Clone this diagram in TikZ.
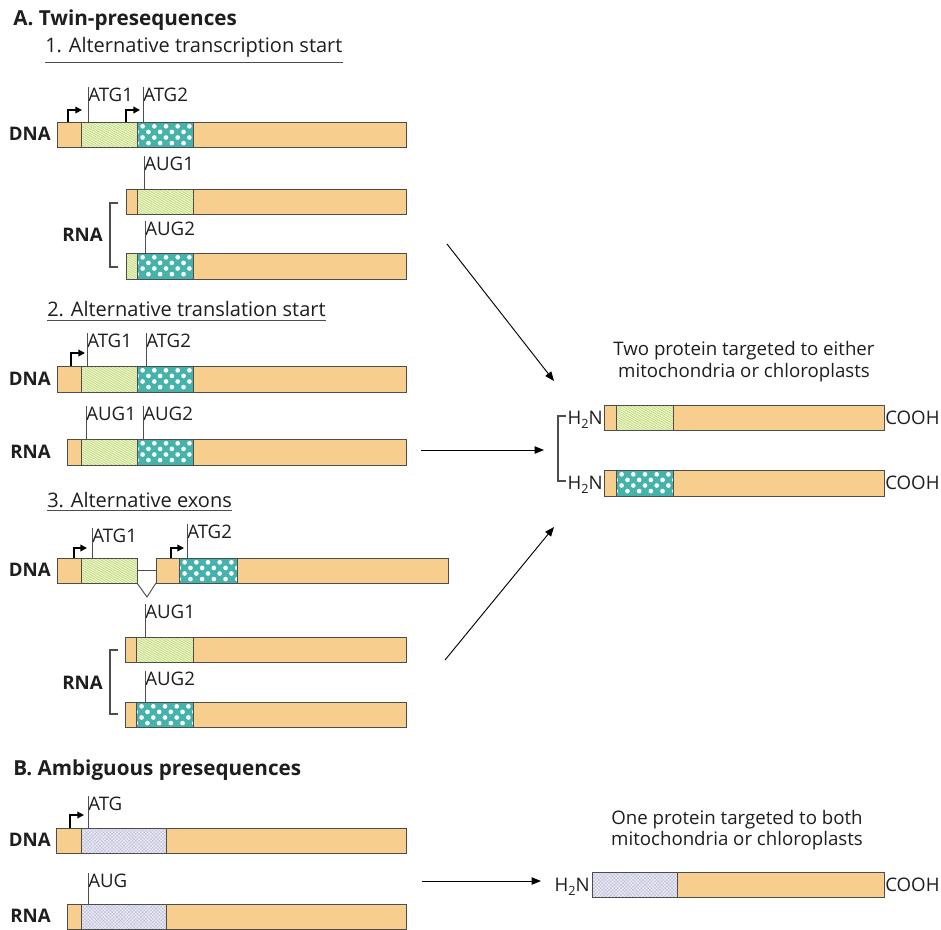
\documentclass[tikz,border=0pt]{standalone}
\usepackage{fontspec}
\setmainfont{Open Sans}
\usetikzlibrary{patterns.meta,arrows.meta}
\definecolor{orng}{HTML}{F8CE8F}
\definecolor{grnbg}{HTML}{EAF3C6}
\definecolor{grnln}{HTML}{B6D46C}
\definecolor{tealc}{HTML}{45B3AC}
\definecolor{lavbg}{HTML}{ECECF6}
\definecolor{lavln}{HTML}{BDBDD8}
\definecolor{edgec}{HTML}{4D4D4D}
\definecolor{txt}{HTML}{1E1E1E}
\tikzset{
  segedge/.style={draw=edgec,line width=0.7pt},
  lbl/.style={inner sep=0pt,text=txt,font=\fontsize{14}{16}\selectfont},
  seqlbl/.style={inner sep=0pt,text=txt,font=\bfseries\fontsize{14}{16}\selectfont},
  ttl/.style={inner sep=0pt,text=txt,font=\bfseries\fontsize{15.5}{18}\selectfont},
  hdg/.style={inner sep=0pt,text=txt,font=\fontsize{15}{18}\selectfont},
  tickln/.style={draw=edgec,line width=0.7pt},
  prom/.style={draw=black,line width=1.1pt,-{Triangle[length=5pt,width=5pt]}},
  brk/.style={draw=edgec,line width=0.8pt},
  conn/.style={draw=black,line width=0.7pt,-{Triangle[length=7pt,width=5.5pt]}},
  uline/.style={draw=edgec,line width=0.7pt}
}
\newcommand\orseg[4]{\draw[segedge,fill=orng] (#1,#3) rectangle (#2,#4);}
\newcommand\grseg[4]{\fill[grnbg] (#1,#3) rectangle (#2,#4);
  \fill[pattern={Lines[angle=-30,distance=1.5pt,line width=0.35pt]},pattern color=grnln] (#1,#3) rectangle (#2,#4);
  \draw[segedge] (#1,#3) rectangle (#2,#4);}
\newcommand\tlseg[4]{\fill[tealc] (#1,#3) rectangle (#2,#4);
  \begin{scope}\clip (#1,#3) rectangle (#2,#4);
  \foreach \i in {-1,...,5}{\foreach \j in {0,...,3}{
    \fill[white] ({#1+5.6+\i*11.7+mod(\j,2)*5.85},{#3+4.3+\j*5.6}) circle (1.75pt);}}
  \end{scope}
  \draw[segedge] (#1,#3) rectangle (#2,#4);}
\newcommand\lvseg[4]{\fill[lavbg] (#1,#3) rectangle (#2,#4);
  \fill[pattern={Hatch[angle=45,distance=1.8pt,line width=0.3pt]},pattern color=lavln] (#1,#3) rectangle (#2,#4);
  \draw[segedge] (#1,#3) rectangle (#2,#4);}
% start label: name, x, bar top, baseline, text
\newcommand\startlbl[5]{\node[lbl,anchor=base west] (#1) at (#2,#4) {#5};
  \draw[tickln] (#2,#3) -- (#1.north west);}
\newcommand\htwon{H\raisebox{-0.4ex}{\fontsize{9.5}{10}\selectfont 2}N}
\begin{document}
\begin{tikzpicture}[x=0.75pt,y=-0.75pt]
\useasboundingbox (0,0) rectangle (941,929);
\fill[white] (0,0) rectangle (941,929);

% ===== A =====
\node[ttl,anchor=base west] (tA) at (13,25) {A. Twin-presequences};
\node[hdg,anchor=base west] (h1) at (45,52) {1. Alternative transcription start};
\draw[uline] (h1.west |- 0,62) -- (h1.east |- 0,62);

% section 1 DNA
\orseg{57}{81}{122}{147}
\grseg{81}{137}{122}{147}
\tlseg{137}{193}{122}{147}
\orseg{193}{406}{122}{147}
\coordinate (p1a) at (68,122); \coordinate (p1b) at (82,110);
\draw[prom] (p1a) |- (p1b);
\coordinate (p2a) at (126,122); \coordinate (p2b) at (140,110);
\draw[prom] (p2a) |- (p2b);
\startlbl{s1atg1}{88}{122}{101}{ATG1}
\startlbl{s1atg2}{143}{122}{101}{ATG2}
\node[seqlbl,anchor=east] (s1dna) at (51,134) {DNA};
% RNA 1
\orseg{126}{137}{189}{214}
\grseg{137}{193}{189}{214}
\orseg{193}{406}{189}{214}
\startlbl{s1aug1}{144}{189}{170}{AUG1}
% RNA 2
\grseg{126}{137}{253}{279}
\tlseg{137}{193}{253}{279}
\orseg{193}{406}{253}{279}
\startlbl{s1aug2}{145}{253}{235}{AUG2}
\draw[brk] (118,203) -- (110,203) -- (110,267) -- (118,267);
\node[seqlbl,anchor=east] (s1rna) at (103,235) {RNA};

% section 2
\node[hdg,anchor=base west] (h2) at (47,316) {2. Alternative translation start};
\draw[uline] (h2.west |- 0,320) -- (h2.east |- 0,320);
\orseg{57}{81}{366}{392}
\grseg{81}{137}{366}{392}
\tlseg{137}{193}{366}{392}
\orseg{193}{406}{366}{392}
\coordinate (p3a) at (71,366); \coordinate (p3b) at (85,353);
\draw[prom] (p3a) |- (p3b);
\startlbl{s2atg1}{87}{366}{347}{ATG1}
\startlbl{s2atg2}{146}{366}{347}{ATG2}
\node[seqlbl,anchor=east] (s2dna) at (51,379) {DNA};
\orseg{67}{81}{439}{465}
\grseg{81}{137}{439}{465}
\tlseg{137}{193}{439}{465}
\orseg{193}{406}{439}{465}
\startlbl{s2aug1}{86}{439}{420}{AUG1}
\startlbl{s2aug2}{143}{439}{420}{AUG2}
\node[seqlbl,anchor=east] (s2rna) at (51,452) {RNA};

% section 3
\node[hdg,anchor=base west] (h3) at (47,507) {3. Alternative exons};
\draw[uline] (h3.west |- 0,510) -- (h3.east |- 0,510);
\orseg{57}{81}{558}{583}
\grseg{81}{137}{558}{583}
\orseg{156}{179}{558}{583}
\tlseg{179}{237}{558}{583}
\orseg{237}{448}{558}{583}
\coordinate (i1) at (137,570); \coordinate (i2) at (156,570);
\draw[segedge] (i1) -- (i2);
\coordinate (v1) at (137,583); \coordinate (v2) at (147,597); \coordinate (v3) at (156,583);
\draw[segedge] (v1) -- (v2) -- (v3);
\coordinate (p4a) at (74,558); \coordinate (p4b) at (87,548);
\draw[prom] (p4a) |- (p4b);
\coordinate (p5a) at (171,558); \coordinate (p5b) at (184,548);
\draw[prom] (p5a) |- (p5b);
\startlbl{s3atg1}{92}{558}{542}{ATG1}
\startlbl{s3atg2}{187}{558}{538}{ATG2}
\node[seqlbl,anchor=east] (s3dna) at (51,570) {DNA};
\orseg{125}{136}{637}{662}
\grseg{136}{193}{637}{662}
\orseg{193}{406}{637}{662}
\startlbl{s3aug1}{145}{637}{618}{AUG1}
\orseg{125}{136}{702}{727}
\tlseg{136}{193}{702}{727}
\orseg{193}{406}{702}{727}
\startlbl{s3aug2}{145}{702}{685}{AUG2}
\draw[brk] (118,650) -- (110,650) -- (110,714) -- (118,714);
\node[seqlbl,anchor=east] (s3rna) at (103,683) {RNA};

% right: two proteins
\node[lbl,anchor=base] (t1a) at (744,355) {Two protein targeted to either};
\node[lbl,anchor=base] (t1b) at (744,377) {mitochondria or chloroplasts};
\orseg{604}{616}{405}{430}
\grseg{616}{673}{405}{430}
\orseg{673}{884}{405}{430}
\orseg{604}{616}{470}{496}
\tlseg{616}{673}{470}{496}
\orseg{673}{884}{470}{496}
\node[lbl,anchor=base east] (n1) at (603,424) {\htwon};
\node[lbl,anchor=base west] (c1) at (885,424) {COOH};
\node[lbl,anchor=base east] (n2) at (603,489) {\htwon};
\node[lbl,anchor=base west] (c2) at (885,489) {COOH};
\draw[brk] (566,416) -- (558,416) -- (558,481) -- (566,481);

% arrows
\coordinate (a1s) at (447,244); \coordinate (a1e) at (554,381);
\draw[conn] (a1s) -- (a1e);
\coordinate (a2s) at (421,450); \coordinate (a2e) at (544,450);
\draw[conn] (a2s) -- (a2e);
\coordinate (a3s) at (445,660); \coordinate (a3e) at (554,527);
\draw[conn] (a3s) -- (a3e);

% ===== B =====
\node[ttl,anchor=base west] (tB) at (13,775) {B. Ambiguous presequences};
\orseg{56}{81}{828}{853}
\lvseg{81}{166}{828}{853}
\orseg{166}{406}{828}{853}
\coordinate (p6a) at (70,828); \coordinate (p6b) at (84,815);
\draw[prom] (p6a) |- (p6b);
\startlbl{sbatg}{88}{828}{810}{ATG}
\node[seqlbl,anchor=east] (sbdna) at (51,840) {DNA};
\orseg{67}{81}{904}{929}
\lvseg{81}{166}{904}{929}
\orseg{166}{406}{904}{929}
\startlbl{sbaug}{88}{904}{887}{AUG}
\node[seqlbl,anchor=east] (sbrna) at (51,916) {RNA};

\node[lbl,anchor=base] (t2a) at (737,824) {One protein targeted to both};
\node[lbl,anchor=base] (t2b) at (737,845) {mitochondria or chloroplasts};
\lvseg{592}{677}{872}{897}
\orseg{677}{884}{872}{897}
\node[lbl,anchor=base east] (n3) at (590,891) {\htwon};
\node[lbl,anchor=base west] (c3) at (885,891) {COOH};
\coordinate (a4s) at (422,881); \coordinate (a4e) at (541,881);
\draw[conn] (a4s) -- (a4e);
\end{tikzpicture}
\end{document}
